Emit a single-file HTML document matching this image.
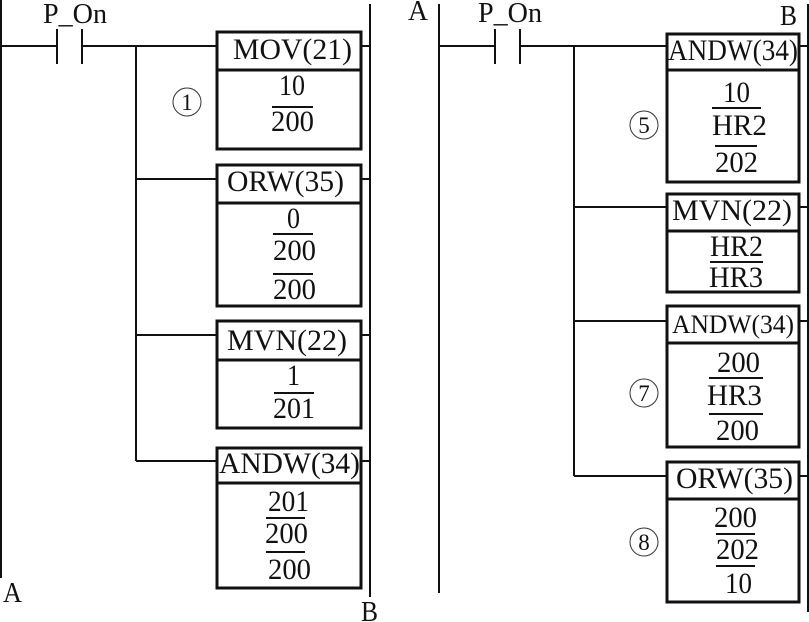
<!DOCTYPE html>
<html><head><meta charset="utf-8"><style>
html,body{margin:0;padding:0;background:#fff}
svg{display:block}
text{font-family:"Liberation Serif",serif;font-size:30px;fill:#111}
.s{font-size:28px}
.n{font-size:23px}
.l{stroke:#111;stroke-width:2;fill:none}
.b{stroke:#111;stroke-width:3;fill:#fff}
.c{stroke:#333;stroke-width:1;fill:#fff}
</style></head><body>
<svg width="809" height="622" viewBox="0 0 809 622" xmlns="http://www.w3.org/2000/svg">
<g class="l">
<path class="l" d="M1 0V578M370 4V597M136 46V461"/>
<path class="l" d="M2 46H57M82 46H216M57 29V64M82 29V64"/>
<path class="l" d="M136 179H216M136 335H216M136 461H216M362 46H370M362 179H370M362 335H370M362 461H370"/>
<path class="l" d="M439 4V593M808 4V612M574 46V476"/>
<path class="l" d="M440 46H495M520 46H666M495 29V64M520 29V64"/>
<path class="l" d="M574 207H666M574 321H666M574 476H666M800 46H808M800 207H808M800 321H808M800 476H808"/>
</g>
<g class="b">
<rect class="b" x="217" y="32" width="144" height="117"/><path class="b" d="M217 70H361"/>
<rect class="b" x="217" y="165" width="144" height="141"/><path class="b" d="M217 203H361"/>
<rect class="b" x="217" y="321" width="144" height="107"/><path class="b" d="M217 360H361"/>
<rect class="b" x="217" y="448" width="144" height="140"/><path class="b" d="M217 483H361"/>
<rect class="b" x="667" y="34" width="132" height="148"/><path class="b" d="M667 70H799"/>
<rect class="b" x="667" y="194" width="132" height="98"/><path class="b" d="M667 231H799"/>
<rect class="b" x="667" y="306" width="132" height="141"/><path class="b" d="M667 343H799"/>
<rect class="b" x="667" y="462" width="132" height="140"/><path class="b" d="M667 499H799"/>
</g>
<g class="l">
<path class="l" d="M272 107H313M273 234H313M273 274H313M274 393H314M266 518H305M266 552H305"/>
<path class="l" d="M712 108H761M715 146H757M710 262H763M709 378H763M709 414H763M716 534H755M716 566H755"/>
</g>
<g>
<text class="s" x="43" y="23" textLength="64" lengthAdjust="spacingAndGlyphs">P_On</text>
<text x="233" y="59" textLength="119" lengthAdjust="spacingAndGlyphs">MOV(21)</text>
<text x="279" y="95" textLength="26" lengthAdjust="spacingAndGlyphs">10</text>
<text x="271" y="131" textLength="43" lengthAdjust="spacingAndGlyphs">200</text>
<text x="227" y="191" textLength="117" lengthAdjust="spacingAndGlyphs">ORW(35)</text>
<text x="287" y="228" textLength="13" lengthAdjust="spacingAndGlyphs">0</text>
<text x="273" y="260" textLength="43" lengthAdjust="spacingAndGlyphs">200</text>
<text x="273" y="299" textLength="43" lengthAdjust="spacingAndGlyphs">200</text>
<text x="227" y="350" textLength="120" lengthAdjust="spacingAndGlyphs">MVN(22)</text>
<text x="287" y="385" textLength="13" lengthAdjust="spacingAndGlyphs">1</text>
<text x="273" y="418" textLength="42" lengthAdjust="spacingAndGlyphs">201</text>
<text x="219" y="473" textLength="141" lengthAdjust="spacingAndGlyphs">ANDW(34)</text>
<text x="268" y="511" textLength="41" lengthAdjust="spacingAndGlyphs">201</text>
<text x="265" y="543" textLength="43" lengthAdjust="spacingAndGlyphs">200</text>
<text x="268" y="579" textLength="43" lengthAdjust="spacingAndGlyphs">200</text>
<text class="s" x="3" y="602" textLength="19" lengthAdjust="spacingAndGlyphs">A</text>
<text class="s" x="361" y="621" textLength="17" lengthAdjust="spacingAndGlyphs">B</text>
<text class="s" x="408" y="20" textLength="20" lengthAdjust="spacingAndGlyphs">A</text>
<text class="s" x="478" y="22" textLength="64" lengthAdjust="spacingAndGlyphs">P_On</text>
<text class="s" x="780" y="25" textLength="17" lengthAdjust="spacingAndGlyphs">B</text>
<text x="668" y="60" textLength="130" lengthAdjust="spacingAndGlyphs">ANDW(34)</text>
<text x="723" y="102" textLength="27" lengthAdjust="spacingAndGlyphs">10</text>
<text x="712" y="135" textLength="55" lengthAdjust="spacingAndGlyphs">HR2</text>
<text x="715" y="172" textLength="43" lengthAdjust="spacingAndGlyphs">202</text>
<text x="672" y="220" textLength="120" lengthAdjust="spacingAndGlyphs">MVN(22)</text>
<text x="710" y="256" textLength="53" lengthAdjust="spacingAndGlyphs">HR2</text>
<text x="709" y="287" textLength="54" lengthAdjust="spacingAndGlyphs">HR3</text>
<text x="672" y="333" textLength="122" lengthAdjust="spacingAndGlyphs" style="font-size:26px">ANDW(34)</text>
<text x="717" y="372" textLength="43" lengthAdjust="spacingAndGlyphs">200</text>
<text x="707" y="405" textLength="55" lengthAdjust="spacingAndGlyphs">HR3</text>
<text x="716" y="440" textLength="43" lengthAdjust="spacingAndGlyphs">200</text>
<text x="676" y="488" textLength="117" lengthAdjust="spacingAndGlyphs">ORW(35)</text>
<text x="714" y="527" textLength="43" lengthAdjust="spacingAndGlyphs">200</text>
<text x="716" y="559" textLength="43" lengthAdjust="spacingAndGlyphs">202</text>
<text x="725" y="593" textLength="27" lengthAdjust="spacingAndGlyphs">10</text>
</g>
<circle class="c" cx="187" cy="102" r="14"/>
<circle class="c" cx="644" cy="125" r="14"/>
<circle class="c" cx="644" cy="393" r="14"/>
<circle class="c" cx="644" cy="542" r="14"/>
<text class="n" x="187" y="110" text-anchor="middle">1</text>
<text class="n" x="644" y="133" text-anchor="middle">5</text>
<text class="n" x="644" y="401" text-anchor="middle">7</text>
<text class="n" x="644" y="550" text-anchor="middle">8</text>
</svg>
</body></html>
